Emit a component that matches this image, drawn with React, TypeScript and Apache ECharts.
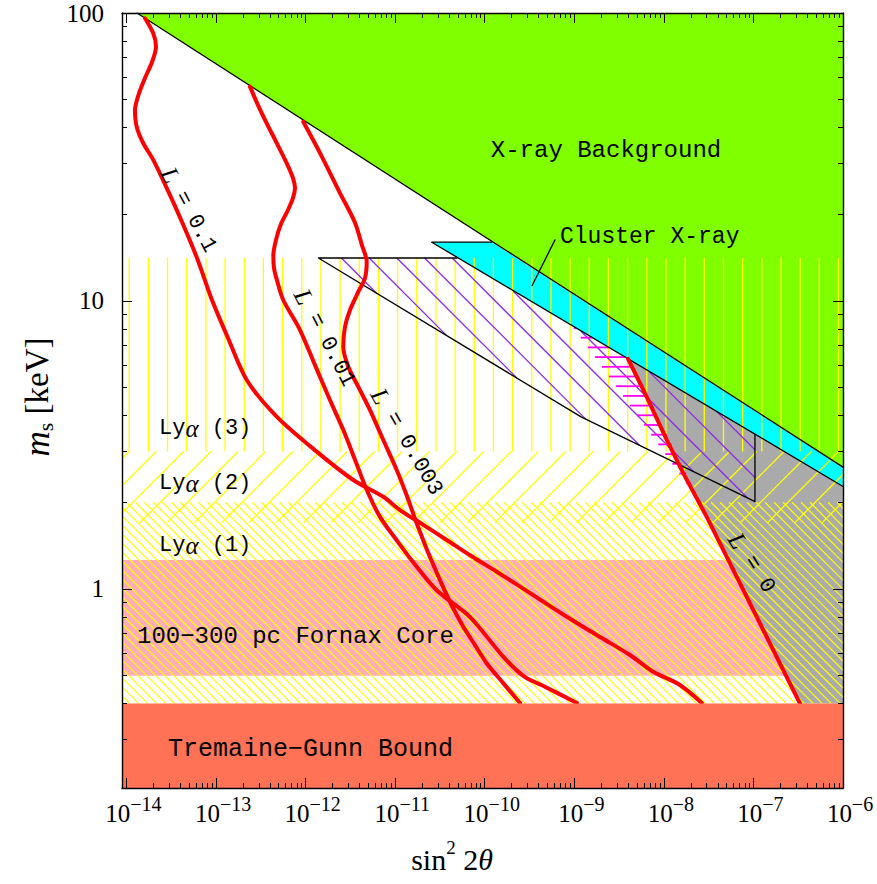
import React, { useEffect, useRef } from "react";
import * as echarts from "echarts";

type Pt = [number, number];

// ---------- axes (log10 of sin^2 2θ and of m_s in keV) ----------
const xLogRange: Pt = [-14.05, -6];
const yLogRange: Pt = [-0.691, 2];
const xMajorExponents = [-14, -13, -12, -11, -10, -9, -8, -7, -6];
const yMajorExponents = [0, 1, 2];
const minorMultipliers = [2, 3, 4, 5, 6, 7, 8, 9];

// ---------- regions: [sin^2 2θ, m_s (keV)] ----------
const xrayBackground: Pt[] = [[1.31e-14, 100], [1e-6, 100], [1e-6, 2.65]];
const clusterXray: Pt[] = [[2.56e-11, 16.0], [1.2e-10, 16.0], [1e-6, 2.65], [1e-6, 2.27]];
const excludedL0: Pt[] = [[3.98e-9, 6.3], [1e-6, 2.27], [1e-6, 0.4], [3.31e-7, 0.4]];
const hatchedRegion: Pt[] = [[1.39e-12, 14.1], [4.9e-11, 14.1], [1.04e-7, 3.45], [1.04e-7, 2.01], [6.5e-8, 2.16], [1.19e-9, 3.96]];
const magentaRegion: Pt[] = [[9.42e-10, 8.22], [3.98e-9, 6.3], [2.67e-8, 1.96]];

// outlines
const xrayEdge: Pt[] = [[1.31e-14, 100], [1e-6, 2.65]];
const clusterOutline: Pt[] = [[1.2e-10, 16.0], [2.56e-11, 16.0], [1e-6, 2.27]];
const hatchedOutline: Pt[] = [[4.9e-11, 14.1], [1.39e-12, 14.1], [1.19e-9, 3.96], [6.5e-8, 2.16], [1.04e-7, 2.01], [1.04e-7, 3.45]];
const clusterPointer: Pt[] = [[6.09e-10, 16.3], [3.37e-10, 11.3]];

// m_s bands (keV): [lower, upper]
const lya3Band: Pt = [3.0, 14.1];
const lya2Band: Pt = [1.7, 3.0];
const lya1Band: Pt = [0.4, 2.0];
const fornaxBand: Pt = [0.5, 1.26];
const tremaineGunnBound = 0.4;

// ---------- production curves ----------
const curveL01: Pt[] = [
  [1.61e-14, 95.9], [1.99e-14, 85.0], [2.135e-14, 76.4], [1.93e-14, 67.6], [1.61e-14, 59.5],
  [1.36e-14, 51.9], [1.245e-14, 46.0], [1.3e-14, 40.3], [1.54e-14, 35.3], [1.99e-14, 30.9],
  [2.81e-14, 24.7], [4.17e-14, 18.8], [6.13e-14, 14.1], [9.01e-14, 10.08], [1.36e-13, 7.44],
  [2.2e-13, 5.32], [4.75e-13, 3.97], [1.33e-12, 3.0], [3.41e-12, 2.39], [7.37e-12, 2.09],
  [1.13e-11, 1.88], [2.06e-11, 1.67], [3.76e-11, 1.48], [6.85e-11, 1.31], [1.36e-10, 1.148],
  [2.48e-10, 1.019], [4.51e-10, 0.903], [8.23e-10, 0.801], [1.94e-9, 0.681], [4.18e-9, 0.59],
  [7.62e-9, 0.516], [1.51e-8, 0.464], [2.65e-8, 0.402],
];
const curveL001: Pt[] = [
  [2.39e-13, 55.5], [2.94e-13, 47.9], [3.68e-13, 41.4], [4.75e-13, 35.4], [6.15e-13, 30.1],
  [7.23e-13, 26.7], [7.61e-13, 24.7], [7.23e-13, 22.8], [6.36e-13, 20.7], [5.31e-13, 18.5],
  [4.67e-13, 16.3], [4.36e-13, 14.4], [4.44e-13, 13.0], [4.79e-13, 11.8], [5.63e-13, 10.08],
  [8.66e-13, 7.93], [1.27e-12, 6.0], [1.87e-12, 4.53], [2.63e-12, 3.57], [3.56e-12, 2.81],
  [4.81e-12, 2.21], [6.77e-12, 1.78], [1.04e-11, 1.476], [1.59e-11, 1.238], [2.91e-11, 0.99],
  [6.85e-11, 0.799], [1.61e-10, 0.582], [2.77e-10, 0.496], [4.75e-10, 0.457], [1.07e-9, 0.402],
];
const curveL0003: Pt[] = [
  [9.42e-13, 41.9], [1.45e-12, 32.6], [2.42e-12, 23.7], [3.56e-12, 18.7], [4.26e-12, 15.6],
  [4.81e-12, 13.7], [4.6e-12, 12.0], [3.87e-12, 10.75], [3.13e-12, 9.31], [2.75e-12, 8.12],
  [2.63e-12, 6.94], [3.0e-12, 5.91], [3.87e-12, 5.04], [5.24e-12, 4.18], [7.37e-12, 3.29],
  [1.04e-11, 2.59], [1.34e-11, 2.12], [1.74e-11, 1.691], [2.32e-11, 1.344], [3.16e-11, 1.075],
  [4.2e-11, 0.887], [5.76e-11, 0.74], [7.78e-11, 0.639], [1.05e-10, 0.552], [1.6e-10, 0.472],
  [2.48e-10, 0.402],
];
const curveL0: Pt[] = [
  [3.98e-9, 6.3], [6.43e-9, 4.65], [1.08e-8, 3.29], [1.65e-8, 2.52], [3.01e-8, 1.78],
  [5.25e-8, 1.26], [3.31e-7, 0.4],
];

// ---------- helpers ----------
const lg = (v: number) => Math.log10(v);
const toLog = (pts: Pt[]): Pt[] => pts.map(([x, y]) => [lg(x), lg(y)] as Pt);
const bandLog = (lo: number, hi: number): Pt[] => [
  [xLogRange[0] - 0.3, lg(lo)], [xLogRange[1] + 0.3, lg(lo)],
  [xLogRange[1] + 0.3, lg(hi)], [xLogRange[0] - 0.3, lg(hi)],
];

function minorTicks(range: Pt, eFrom: number, eTo: number) {
  const out: number[] = [];
  for (let e = eFrom; e <= eTo; e++) {
    for (const m of minorMultipliers) {
      const v = e + Math.log10(m);
      if (v > range[0] && v < range[1]) out.push(v);
    }
  }
  return out;
}
const xMinor = minorTicks(xLogRange, -15, -7);
const yMinor = minorTicks(yLogRange, -1, 1);

function hatchSegments(poly: Pt[], angleDeg: number, spacing: number, through: Pt) {
  const a = (angleDeg * Math.PI) / 180;
  const d: Pt = [Math.cos(a), Math.sin(a)];
  const n: Pt = [-Math.sin(a), Math.cos(a)];
  const proj = (p: Pt) => p[0] * n[0] + p[1] * n[1];
  const c0 = proj(through);
  let pmin = Infinity, pmax = -Infinity;
  poly.forEach((p) => { const v = proj(p); pmin = Math.min(pmin, v); pmax = Math.max(pmax, v); });
  const k0 = Math.ceil((pmin - c0) / spacing), k1 = Math.floor((pmax - c0) / spacing);
  const segs: number[][] = [];
  for (let k = k0; k <= k1; k++) {
    const c = c0 + k * spacing;
    const ts: number[] = [];
    for (let i = 0; i < poly.length; i++) {
      const A = poly[i], B = poly[(i + 1) % poly.length];
      const pa = proj(A), pb = proj(B);
      if ((pa <= c && pb > c) || (pb <= c && pa > c)) {
        const s = (c - pa) / (pb - pa);
        const X = A[0] + s * (B[0] - A[0]), Y = A[1] + s * (B[1] - A[1]);
        ts.push(X * d[0] + Y * d[1]);
      }
    }
    ts.sort((u, v) => u - v);
    for (let j = 0; j + 1 < ts.length; j += 2) {
      segs.push([c * n[0] + ts[j] * d[0], c * n[1] + ts[j] * d[1], c * n[0] + ts[j + 1] * d[0], c * n[1] + ts[j + 1] * d[1]]);
    }
  }
  return segs;
}

function fillSeries(name: string, polyLog: Pt[], fill: string, z: number) {
  return {
    type: "custom", name, z, silent: true, clip: true, data: [[-10, 0.5]],
    renderItem: (_p: any, api: any) => ({
      type: "polygon",
      shape: { points: polyLog.map((p) => api.coord(p)) },
      style: { fill, stroke: "none" },
    }),
  };
}

function hatchSeries(name: string, polyLog: Pt[], angle: number, spacing: number, through: Pt, color: string, width: number, z: number) {
  return {
    type: "custom", name, z, silent: true, clip: true, data: [[-10, 0.5]],
    renderItem: (_p: any, api: any) => {
      const pix = polyLog.map((p) => api.coord(p) as Pt);
      const segs = hatchSegments(pix, angle, spacing, through);
      return {
        type: "group",
        children: segs.map((s) => ({
          type: "line",
          shape: { x1: s[0], y1: s[1], x2: s[2], y2: s[3] },
          style: { stroke: color, lineWidth: width },
        })),
      };
    },
  };
}

function lineSeries(name: string, pts: Pt[], color: string, width: number, z: number, smooth: number | boolean = false) {
  return {
    type: "line", name, z, silent: true, clip: true, symbol: "none", smooth,
    data: toLog(pts),
    lineStyle: { color, width, cap: "round", join: "round" },
  };
}

const mono = "'Liberation Mono', 'DejaVu Sans Mono', monospace";
const serif = "'Liberation Serif', 'DejaVu Serif', serif";

function xAxisDef(position: string, major: boolean, labels: boolean) {
  return {
    type: "value", min: xLogRange[0], max: xLogRange[1], position, z: 10,
    axisLine: { show: major, onZero: false, lineStyle: { color: "#000", width: 1.4 } },
    axisTick: { show: true, inside: true, length: major ? 10 : 5, customValues: major ? xMajorExponents : xMinor, lineStyle: { color: "#000", width: 1 } },
    axisLabel: labels
      ? {
          show: true, customValues: xMajorExponents, margin: 6,
          formatter: (v: number) => `{b|10}{s|−${Math.abs(Math.round(v))}}`,
          rich: {
            b: { fontFamily: serif, fontSize: 25, lineHeight: 32, verticalAlign: "bottom", padding: [0, 0, 0, 14], color: "#000" },
            s: { fontFamily: serif, fontSize: 20, lineHeight: 12, verticalAlign: "top", color: "#000" },
          },
        }
      : { show: false },
    splitLine: { show: false },
  };
}
function yAxisDef(position: string, major: boolean, labels: boolean) {
  return {
    type: "value", min: yLogRange[0], max: yLogRange[1], position, z: 10,
    axisLine: { show: major, onZero: false, lineStyle: { color: "#000", width: 1.4 } },
    axisTick: { show: true, inside: true, length: major ? 10 : 5, customValues: major ? yMajorExponents : yMinor, lineStyle: { color: "#000", width: 1 } },
    axisLabel: labels
      ? {
          show: true, customValues: yMajorExponents, margin: 18,
          formatter: (v: number) => String(Math.round(Math.pow(10, v))),
          fontFamily: serif, fontSize: 25, color: "#000",
        }
      : { show: false },
    splitLine: { show: false },
  };
}

function txt(x: number, y: number, text: string, rich: any, align = "left", rotDeg = 0) {
  return {
    type: "text", x, y, z: 100, rotation: (rotDeg * Math.PI) / 180, silent: true,
    style: { text, rich, fill: "#000", align, textAlign: align, verticalAlign: "middle", textVerticalAlign: "middle" },
  };
}

function buildOption() {
  const lyaRich = {
    t: { fontFamily: mono, fontSize: 22, color: "#000" },
    a: { fontFamily: serif, fontStyle: "italic", fontSize: 25, color: "#000" },
  };
  const lRich = {
    i: { fontFamily: serif, fontStyle: "italic", fontSize: 25, color: "#000" },
    t: { fontFamily: mono, fontSize: 22, color: "#000" },
  };
  const monoRich = (size: number) => ({ t: { fontFamily: mono, fontSize: size, color: "#000" } });

  return {
    animation: false,
    backgroundColor: "#fff",
    grid: { left: 122, right: 34, top: 13, bottom: 96, containLabel: false, outerBoundsMode: "none" },
    xAxis: [xAxisDef("bottom", true, true), xAxisDef("bottom", false, false), xAxisDef("top", true, false), xAxisDef("top", false, false)],
    yAxis: [yAxisDef("left", true, true), yAxisDef("left", false, false), yAxisDef("right", true, false), yAxisDef("right", false, false)],
    series: [
      fillSeries("fornax", bandLog(fornaxBand[0], fornaxBand[1]), "#ffaeb9", 1),
      fillSeries("xray", toLog(xrayBackground), "#7fff00", 1),
      fillSeries("cluster", toLog(clusterXray), "#00ffff", 1),
      fillSeries("L0 excluded", toLog(excludedL0), "#aaaaaa", 1),
      hatchSeries("lya3", bandLog(lya3Band[0], lya3Band[1]), 90, 19.17, [129.2, 300], "#ffff00", 1.3, 2),
      hatchSeries("lya2", bandLog(lya2Band[0], lya2Band[1]), -45, 19.3, [493.3, 496.7], "#ffff00", 1.3, 2),
      hatchSeries("lya1", bandLog(lya1Band[0], lya1Band[1]), 45, 6.36, [400, 560], "#ffff00", 1.2, 2),
      hatchSeries("hatched", toLog(hatchedRegion), 45, 19.6, [341.7, 258.3], "#8a2be2", 1.3, 3),
      hatchSeries("magenta", toLog(magentaRegion), 0, 9.7, [600, 337.7], "#ff00ff", 1.8, 3),
      lineSeries("xrayEdge", xrayEdge, "#000", 1.3, 4),
      lineSeries("clusterOutline", clusterOutline, "#000", 1.3, 4),
      lineSeries("hatchedOutline", hatchedOutline, "#000", 1.3, 4),
      lineSeries("pointer", clusterPointer, "#000", 1.3, 4),
      lineSeries("L=0.1", curveL01, "#ff0000", 4, 5, 0.3),
      lineSeries("L=0.01", curveL001, "#ff0000", 4, 5, 0.3),
      lineSeries("L=0.003", curveL0003, "#ff0000", 4, 5, 0.3),
      lineSeries("L=0", curveL0, "#ff0000", 4, 5, false),
      fillSeries("tremaine-gunn", [
        [xLogRange[0] - 0.3, yLogRange[0] - 0.3], [xLogRange[1] + 0.3, yLogRange[0] - 0.3],
        [xLogRange[1] + 0.3, lg(tremaineGunnBound)], [xLogRange[0] - 0.3, lg(tremaineGunnBound)],
      ], "#ff7256", 6),
    ],
    graphic: {
      elements: [
        txt(606, 150, "{t|X-ray Background}", monoRich(24), "center"),
        txt(560, 237, "{t|Cluster X-ray}", monoRich(23)),
        txt(159, 428, "{t|Ly}{a|α}{t| (3)}", lyaRich),
        txt(159, 483, "{t|Ly}{a|α}{t| (2)}", lyaRich),
        txt(159, 545, "{t|Ly}{a|α}{t| (1)}", lyaRich),
        txt(137, 636, "{t|100−300 pc Fornax Core}", monoRich(24)),
        txt(168, 749, "{t|Tremaine−Gunn Bound}", monoRich(25)),
        txt(189, 210, "{i|L}{t| = 0.1}", lRich, "center", -62),
        txt(325, 338, "{i|L}{t| = 0.01}", lRich, "center", -63),
        txt(407, 442, "{i|L}{t| = 0.003}", lRich, "center", -60),
        txt(752, 563, "{i|L}{t| = 0}", lRich, "center", -58),
        txt(452, 856, "{r|sin}{p|2}{r| 2}{i|θ}", {
          r: { fontFamily: serif, fontSize: 30, lineHeight: 36, verticalAlign: "bottom", color: "#000" },
          i: { fontFamily: serif, fontStyle: "italic", fontSize: 30, lineHeight: 36, verticalAlign: "bottom", color: "#000" },
          p: { fontFamily: serif, fontSize: 19, lineHeight: 12, verticalAlign: "top", color: "#000" },
        }, "center"),
        txt(38, 397, "{i|m}{b|s}{r| [keV]}", {
          r: { fontFamily: serif, fontSize: 33, lineHeight: 36, verticalAlign: "top", color: "#000" },
          i: { fontFamily: serif, fontStyle: "italic", fontSize: 35, lineHeight: 36, verticalAlign: "top", color: "#000" },
          b: { fontFamily: serif, fontSize: 22, lineHeight: 10, verticalAlign: "bottom", color: "#000" },
        }, "center", 90),
      ],
    },
  };
}

export default function App() {
  const ref = useRef<HTMLDivElement>(null);
  useEffect(() => {
    const chart = echarts.init(ref.current!, null, { renderer: "svg" });
    chart.setOption(buildOption() as any);
    return () => chart.dispose();
  }, []);
  return <div ref={ref} style={{ position: "absolute", left: 0, top: 0, width: 877, height: 884 }} />;
}
